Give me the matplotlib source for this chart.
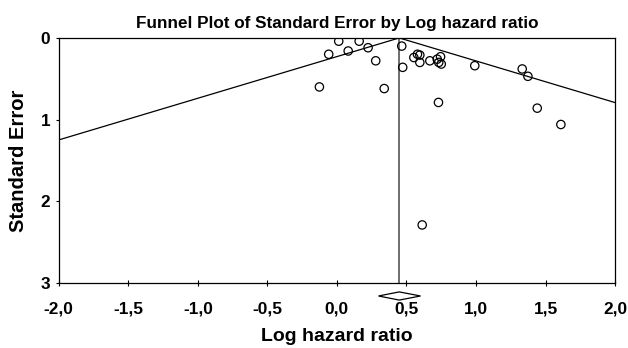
import numpy as np
import matplotlib.pyplot as plt
from matplotlib.patches import Polygon

plt.rcParams["font.family"] = ["Liberation Sans", "DejaVu Sans"]
plt.rcParams["font.weight"] = "bold"

# study estimates
log_hr = [0.013, 0.160, -0.059, 0.081, 0.224, 0.279, -0.126, 0.340,
          0.466, 0.473, 0.553, 0.579, 0.596, 0.596, 0.668, 0.721,
          0.745, 0.732, 0.750, 0.730, 0.991, 1.332, 1.373, 1.440, 1.610, 0.613]
std_err = [0.04, 0.04, 0.20, 0.16, 0.12, 0.28, 0.60, 0.62,
           0.10, 0.36, 0.24, 0.20, 0.21, 0.30, 0.28, 0.26,
           0.23, 0.30, 0.32, 0.79, 0.34, 0.38, 0.47, 0.86, 1.06, 2.29]

pooled = 0.448
ci_low, ci_high = 0.299, 0.601
se_range = [0.0, 3.0]

fig = plt.figure(figsize=(6.28, 3.48), dpi=100)
ax = fig.add_axes([0.0935, 0.187, 0.886, 0.704])

# funnel (pseudo 95% limits)
se = np.array(se_range)
ax.plot(pooled - 1.96 * se, se, color="black", lw=0.9)
ax.plot(pooled + 1.96 * se, se, color="black", lw=0.9)
ax.plot([pooled, pooled], se, color="#555555", lw=1.2)

ax.scatter(log_hr, std_err, s=36, facecolors="none", edgecolors="black", linewidths=0.9, zorder=3)

# summary diamond below the axis
yc, dy = 3.16, 0.05
diamond = Polygon([[ci_low, yc], [pooled, yc - dy], [ci_high, yc], [pooled, yc + dy]],
                  closed=True, facecolor="white", edgecolor="black", lw=0.9, clip_on=False)
ax.add_patch(diamond)

ax.set_xlim(-2, 2)
ax.set_ylim(3, 0)
xt = np.arange(-2, 2.01, 0.5)
ax.set_xticks(xt)
ax.set_xticklabels([f"{v:.1f}".replace(".", ",") for v in xt], fontsize=12.4, fontweight="bold")
ax.set_yticks([0, 1, 2, 3])
ax.set_yticklabels(["0", "1", "2", "3"], fontsize=12.4, fontweight="bold")
ax.tick_params(axis="x", direction="inout", length=5, width=0.8, pad=11)
ax.tick_params(axis="y", direction="out", length=2, width=0.8, pad=4)
for s in ax.spines.values():
    s.set_linewidth(0.9)

ax.set_title("Funnel Plot of Standard Error by Log hazard ratio", fontsize=12.3, fontweight="bold", pad=7)
ax.set_xlabel("Log hazard ratio", fontsize=14, fontweight="bold", labelpad=8)
ax.set_ylabel("Standard Error", fontsize=14.5, fontweight="bold", labelpad=9)

plt.savefig("out.png", dpi=100)
